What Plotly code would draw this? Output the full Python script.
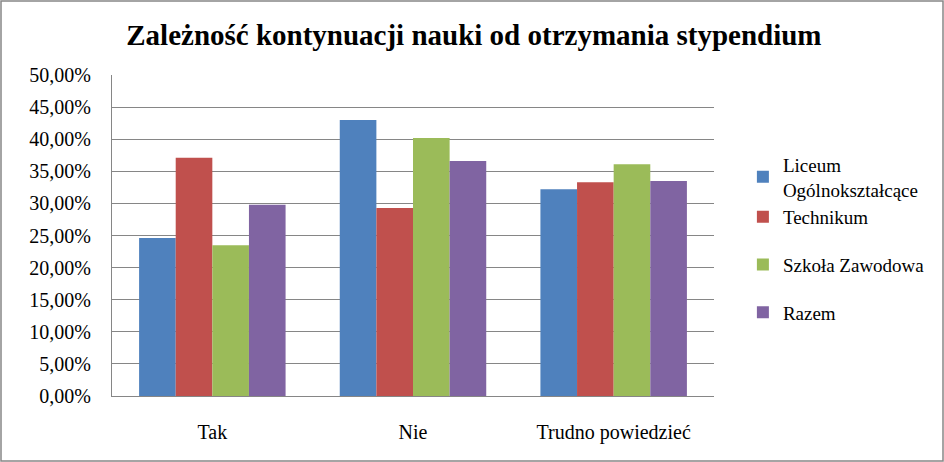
import plotly.graph_objects as go

categories = ["Tak", "Nie", "Trudno powiedzieć"]
series_names = ["Liceum<br>Ogólnokształcące", "Technikum", "Szkoła Zawodowa", "Razem"]
liceum = [0.246, 0.430, 0.322]
technikum = [0.371, 0.293, 0.333]
zawodowa = [0.235, 0.402, 0.361]
razem = [0.298, 0.366, 0.335]
colors = ["#4F81BD", "#C0504D", "#9BBB59", "#8064A2"]
groups = ["a", "a", "b", "c"]

values = [liceum, technikum, zawodowa, razem]
font_family = "Liberation Serif"

fig = go.Figure()
for i, (name, vals) in enumerate(zip(series_names, values)):
    fig.add_trace(go.Bar(
        x=categories, y=vals, name=name,
        marker=dict(color=colors[i], line=dict(width=0)),
        legendgroup=groups[i],
    ))

fig.update_layout(
    width=944, height=462,
    margin=dict(l=112, r=230, t=75, b=66),
    paper_bgcolor="white", plot_bgcolor="white",
    barmode="group", bargap=0.27, bargroupgap=0,
    separators=", ",
    font=dict(family=font_family, size=19, color="black"),
    title=dict(text="<b>Zależność kontynuacji nauki od otrzymania stypendium</b>",
               x=0.502, xref="container", xanchor="center", y=0.925, yanchor="middle",
               font=dict(family=font_family, size=29, color="black")),
    legend=dict(x=1.048, xanchor="left", y=0.78, yanchor="top",
                font=dict(family=font_family, size=19, color="black"),
                tracegroupgap=20, traceorder="grouped", itemsizing="constant"),
    showlegend=True,
)
fig.update_yaxes(range=[0, 0.5], dtick=0.05, tickformat=".2%",
                 showgrid=True, gridcolor="#868686", gridwidth=1,
                 showline=True, linecolor="#868686", linewidth=1,
                 ticks="", ticklabelstandoff=16,
                 tickfont=dict(family=font_family, size=20), zeroline=False)
fig.update_xaxes(showline=True, linecolor="#868686", linewidth=1,
                 ticks="", tickfont=dict(family=font_family, size=20),
                 ticklabelstandoff=18)

fig.add_shape(type="rect", xref="paper", yref="paper",
              x0=(1 - 112) / 602, x1=(943 - 112) / 602,
              y0=(396 - 461) / 321, y1=(396 - 1) / 321,
              line=dict(color="#868686", width=1.5), fillcolor="rgba(0,0,0,0)",
              layer="below")

fig.write_html("out.html")
